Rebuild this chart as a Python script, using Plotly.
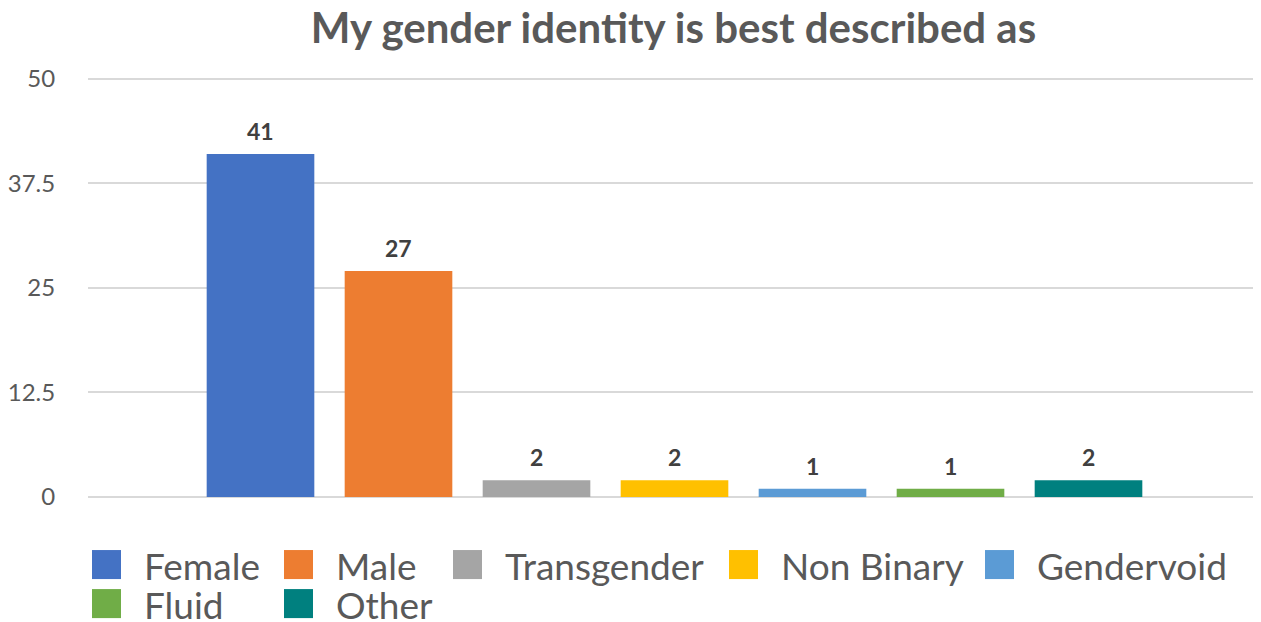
import plotly.graph_objects as go

# ---- data ----
categories = ["Female", "Male", "Transgender", "Non Binary", "Gendervoid", "Fluid", "Other"]
values = [41, 27, 2, 2, 1, 1, 2]
colors = ["#4472C4", "#ED7D31", "#A5A5A5", "#FFC000", "#5B9BD5", "#70AD47", "#00807F"]
y_ticks = [0, 12.5, 25, 37.5, 50]
y_tick_labels = ["0", "12.5", "25", "37.5", "50"]
title_text = "My gender identity is best described as"

# ---- layout constants (page pixels; the page body adds an 8px offset) ----
OFF = 8
PAGE_W, PAGE_H = 1261, 622
EXTRA_R = 24                      # let the plot area run past the right edge
W, H = PAGE_W - OFF + EXTRA_R, PAGE_H - OFF
Y_TOP = 50.2                      # a little headroom so the 50 gridline is drawn
PLOT_L, PLOT_R = 88, PAGE_W + EXTRA_R
Y0_PX, Y50_PX = 497, 79           # page y of value 0 and value 50
FIRST_CAT_PX, CAT_STEP_PX = 260.5, 138.0
px_per_unit = (Y0_PX - Y50_PX) / 50
PLOT_T = Y0_PX - Y_TOP * px_per_unit
ML = PLOT_L - OFF
MR = 0
MT = PLOT_T - OFF
MB = PAGE_H - Y0_PX
PW = PLOT_R - PLOT_L
PH = Y0_PX - PLOT_T
X_RANGE = [(PLOT_L - FIRST_CAT_PX) / CAT_STEP_PX, (PLOT_R - FIRST_CAT_PX) / CAT_STEP_PX]
FONT = "Lato, 'Open Sans', sans-serif"
GRID = "#D9D9D9"
TXT = "#595959"


def px_x(p):
    return (p - PLOT_L) / PW


def px_y(p):
    return (Y0_PX - p) / PH


fig = go.Figure()
for cat, val, col in zip(categories, values, colors):
    fig.add_trace(go.Bar(
        x=[cat], y=[val], name=cat, width=0.78,
        marker=dict(color=col, line=dict(width=0)),
        showlegend=False, hoverinfo="x+y",
    ))
    fig.add_annotation(
        x=cat, y=val, text=f"<b>{val}</b>", showarrow=False,
        yanchor="bottom", yshift=7,
        font=dict(family=FONT, size=23, color="#404040"),
    )

# ---- manual legend (Excel style, two rows, aligned columns) ----
legend_cols = [92, 284, 453, 729, 985]
legend_rows = [550, 589]
sq = 29
for i, (cat, col) in enumerate(zip(categories, colors)):
    r, c = divmod(i, len(legend_cols))
    x0 = legend_cols[c]
    y0 = legend_rows[r]
    fig.add_shape(type="rect", xref="paper", yref="paper",
                  x0=px_x(x0), x1=px_x(x0 + sq), y0=px_y(y0), y1=px_y(y0 + sq),
                  fillcolor=col, line=dict(width=0), layer="above")
    fig.add_annotation(xref="paper", yref="paper", x=px_x(x0 + 51), y=px_y(y0 + sq / 2 + 1),
                       text=cat, showarrow=False, xanchor="left", yanchor="middle",
                       borderpad=0,
                       font=dict(family=FONT, size=37, color=TXT))

# ---- frame border (top and left edges visible) ----
fig.add_shape(type="line", xref="paper", yref="paper",
              x0=px_x(5), x1=px_x(PLOT_R + 20), y0=px_y(5), y1=px_y(5),
              line=dict(color=GRID, width=1.5))
fig.add_shape(type="line", xref="paper", yref="paper",
              x0=px_x(5), x1=px_x(5), y0=px_y(5), y1=px_y(PAGE_H + 20),
              line=dict(color=GRID, width=1.5))

fig.update_layout(
    width=W, height=H,
    margin=dict(l=ML, r=MR, t=MT, b=MB, autoexpand=False),
    paper_bgcolor="white", plot_bgcolor="white",
    barmode="overlay",
    title=dict(text=f"<b>{title_text}</b>", x=px_x(673.5), xref="paper", xanchor="center",
               y=1 - (28 - OFF) / H, yref="container", yanchor="middle",
               font=dict(family=FONT, size=42, color=TXT)),
    xaxis=dict(type="category", categoryorder="array", categoryarray=categories,
               range=X_RANGE, showticklabels=False, showgrid=False,
               zeroline=False, showline=False, ticks=""),
    yaxis=dict(range=[0, Y_TOP], tickvals=y_ticks, ticktext=y_tick_labels,
               showgrid=True, gridcolor=GRID, gridwidth=2,
               zeroline=True, zerolinecolor=GRID, zerolinewidth=2,
               showline=False, ticks="outside", ticklen=27, tickcolor="rgba(0,0,0,0)",
               tickfont=dict(family=FONT, size=24, color=TXT)),
    showlegend=False,
)

fig.write_html("out.html")
